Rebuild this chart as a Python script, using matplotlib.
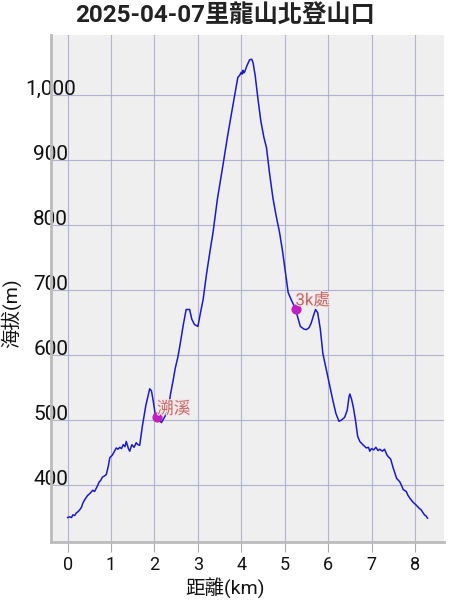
import matplotlib
matplotlib.use("Agg")
import matplotlib.pyplot as plt
import matplotlib.patheffects as pe
from matplotlib.ticker import FuncFormatter

plt.rcParams['font.family'] = ['Roboto', 'Noto Sans CJK TC', 'DejaVu Sans']

dist_km = [0.00, 0.05, 0.09, 0.12, 0.16, 0.20, 0.24, 0.28, 0.32, 0.35, 0.39, 0.42, 0.46, 0.50,
           0.54, 0.58, 0.62, 0.66, 0.69, 0.72, 0.76, 0.80, 0.85, 0.89,
           0.94, 0.97, 1.03, 1.08, 1.12, 1.16, 1.20, 1.24, 1.28, 1.32, 1.35, 1.40, 1.43, 1.48,
           1.53, 1.58, 1.62, 1.66,
           1.72, 1.80, 1.89, 1.93, 1.97, 2.01, 2.04, 2.10, 2.16, 2.22, 2.31, 2.37, 2.43,
           2.48, 2.54, 2.60, 2.66, 2.73, 2.81, 2.86, 2.92, 3.00, 3.06, 3.12, 3.20, 3.28,
           3.35, 3.45, 3.58, 3.68, 3.77, 3.85, 3.92, 3.96, 4.00, 4.02, 4.04, 4.06, 4.08, 4.13, 4.19,
           4.24, 4.27, 4.32, 4.38, 4.45, 4.52, 4.58, 4.65, 4.73, 4.80, 4.88, 4.95, 5.02,
           5.08, 5.15, 5.22, 5.25, 5.30, 5.36, 5.44, 5.50, 5.56, 5.61, 5.66, 5.71, 5.76,
           5.82, 5.88, 5.95, 6.03, 6.11, 6.18, 6.25, 6.31, 6.38, 6.44, 6.48, 6.50, 6.54,
           6.58, 6.63, 6.68, 6.73, 6.80, 6.88, 6.93, 6.96, 7.00, 7.05, 7.10, 7.15, 7.19,
           7.25, 7.30, 7.35, 7.38, 7.44, 7.50, 7.55, 7.58, 7.65, 7.70, 7.73, 7.80, 7.84, 7.88,
           7.95, 8.00, 8.03, 8.10, 8.14, 8.18, 8.22, 8.26, 8.29]
elev_m = [350, 351, 350, 354, 353, 357, 359, 362, 366, 372, 377, 380, 384, 386,
          389, 392, 390, 395, 399, 404, 407, 412, 414, 416,
          430, 442, 446, 452, 457, 455, 458, 456, 462, 459, 467, 456, 452, 462,
          458, 465, 462, 461,
          490, 522, 548, 545, 530, 512, 504, 500, 496, 503, 514, 540, 561,
          580, 597, 620, 645, 670, 670, 655, 647, 644, 665, 685, 725, 760,
          789, 840, 893, 935, 970, 1000, 1027, 1030, 1035, 1032, 1038, 1034, 1036, 1045, 1054,
          1055, 1050, 1030, 996, 960, 935, 919, 880, 841, 815, 789, 760, 725,
          696, 685, 675, 671, 658, 644, 640, 639, 642, 649, 660, 670, 665,
          640, 602, 580, 555, 530, 510, 498, 500, 504, 515, 535, 540, 532,
          520, 500, 475, 467, 462, 457, 458, 452, 456, 454, 458, 453, 455,
          452, 455, 447, 444, 440, 426, 416, 410, 405, 398, 393, 390, 384, 380,
          374, 371, 369, 364, 362, 358, 354, 352, 349]

poi_names = ['溯溪', '3k處']
poi_km = [2.06, 5.25]
poi_elev = [504, 671]

y_ticks = [400, 500, 600, 700, 800, 900, 1000]
x_ticks = [0, 1, 2, 3, 4, 5, 6, 7, 8]

fig = plt.figure(figsize=(4.5, 6), dpi=100)
ax = fig.add_axes([0.1127, 0.0972, 0.874, 0.8445])
ax.set_facecolor('#efefef')

ax.plot(dist_km, elev_m, color='#1a1acc', lw=1.1, zorder=3)
ax.scatter(poi_km, poi_elev, s=40, color='#c020c0', zorder=4)
for n, x, y in zip(poi_names, poi_km, poi_elev):
    ax.text(x, y + 1, n, fontsize=12, color='#c06a6a', va='bottom', ha='left', zorder=5,
            path_effects=[pe.withStroke(linewidth=1.5, foreground='#f6e4e4')])

ax.set_xlim(-0.39, 8.67)
ax.set_ylim(312.8, 1092.3)
ax.set_xticks(x_ticks)
ax.set_yticks(y_ticks)
ax.yaxis.set_major_formatter(FuncFormatter(lambda v, p: f"{int(v):,}"))
ax.grid(True, color='#a8a8cc', lw=0.8, alpha=0.85, zorder=1)
ax.set_axisbelow(True)

for s in ['top', 'right']:
    ax.spines[s].set_visible(False)
for s in ['left', 'bottom']:
    ax.spines[s].set_color('#bbbbbb')
    ax.spines[s].set_linewidth(2)

ax.tick_params(axis='x', labelsize=13, length=7, width=0.8, color='#aaaaaa', pad=3,
               labelcolor='#111111')
ax.tick_params(axis='y', labelsize=15, length=0, pad=0, labelcolor='#111111')
for lab in ax.get_yticklabels():
    lab.set_ha('center')
    lab.set_va('baseline')

fig.text(0.5, 0.02, '距離(km)', fontsize=14, ha='center', va='center', color='#111111')
fig.text(0.025, 0.478, '海拔(m)', fontsize=14, ha='center', va='center', rotation=90,
         color='#111111')
fig.text(0.5, 0.973, '2025-04-07里龍山北登山口', fontsize=17.5, fontweight='bold',
         ha='center', va='center', color='#222222')

fig.savefig('out.png', dpi=100)
